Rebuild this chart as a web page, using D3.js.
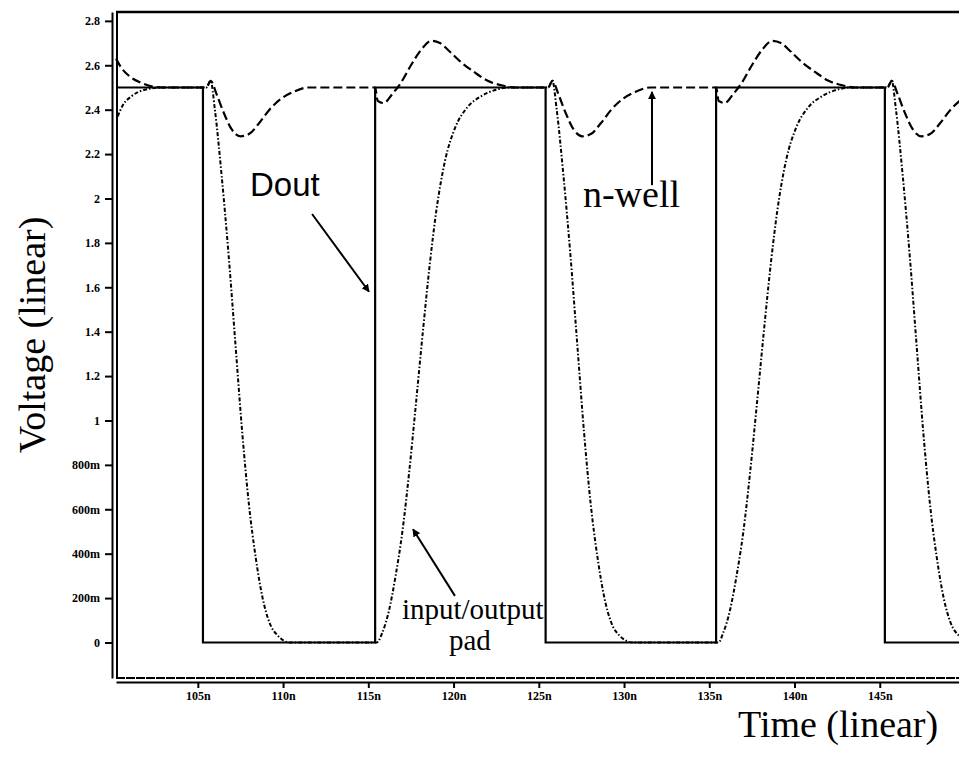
<!DOCTYPE html>
<html>
<head>
<meta charset="utf-8">
<script src="https://cdn.jsdelivr.net/npm/d3@7"></script>
<style>
  body { margin: 0; background: #fff; }
  svg { display: block; }
  .tick text { font-family: "Liberation Serif", serif; font-weight: bold; font-size: 12px; fill: #000; }
  .tick line { stroke: #000; stroke-width: 2; }
  .axis path { stroke: #000; stroke-width: 2; }
</style>
</head>
<body>
<script>
// time in ns, voltage in V
var doutPoints = [[100.2, 2.5], [105.3, 2.5], [105.3, 0], [115.4, 0], [115.4, 2.5], [125.4, 2.5], [125.4, 0],
  [135.4, 0], [135.4, 2.5], [145.3, 2.5], [145.3, 0], [150, 0]];

var padPoints = [[100.3, 2.37], [100.6, 2.42], [101.1, 2.46], [101.9, 2.49], [102.9, 2.5], [105.5, 2.5], [105.75, 2.53],
  [106.0, 2.4], [106.4, 2.1], [106.8, 1.75], [107.2, 1.35], [107.6, 0.95], [108.0, 0.62], [108.4, 0.38], [108.8, 0.2],
  [109.2, 0.09], [109.7, 0.03], [110.4, 0],
  [115.5, 0], [115.8, 0.04], [116.2, 0.14], [116.6, 0.3], [117.0, 0.5], [117.4, 0.77], [117.8, 1.08], [118.2, 1.4],
  [118.6, 1.7], [119.0, 1.95], [119.5, 2.17], [120.1, 2.32], [120.8, 2.41], [121.6, 2.46], [122.5, 2.49], [123.4, 2.5],
  [125.55, 2.5], [125.8, 2.53], [126.05, 2.4], [126.45, 2.1], [126.85, 1.75], [127.25, 1.35], [127.65, 0.95],
  [128.05, 0.62], [128.45, 0.38], [128.85, 0.2], [129.25, 0.09], [129.75, 0.03], [130.5, 0],
  [135.55, 0], [135.8, 0.04], [136.2, 0.14], [136.6, 0.3], [137.0, 0.5], [137.4, 0.77], [137.8, 1.08], [138.2, 1.4],
  [138.6, 1.7], [139.0, 1.95], [139.5, 2.17], [140.1, 2.32], [140.8, 2.41], [141.6, 2.46], [142.5, 2.49], [143.4, 2.5],
  [145.45, 2.5], [145.7, 2.53], [145.95, 2.4], [146.35, 2.1], [146.75, 1.75], [147.15, 1.35], [147.55, 0.95],
  [147.95, 0.62], [148.35, 0.38], [148.75, 0.2], [149.15, 0.09], [149.65, 0.03], [150, 0.01]];

var nwellPoints = [[100.2, 2.63], [100.5, 2.59], [101.0, 2.55], [101.7, 2.52], [102.9, 2.5], [105.5, 2.5], [105.75, 2.53],
  [106.1, 2.47], [106.5, 2.39], [107.0, 2.31], [107.5, 2.28], [108.0, 2.29], [108.6, 2.34], [109.2, 2.4], [109.9, 2.45],
  [110.6, 2.48], [111.5, 2.5],
  [115.4, 2.5], [115.55, 2.44], [115.9, 2.43], [116.4, 2.47], [116.9, 2.52], [117.5, 2.6], [118.1, 2.67], [118.7, 2.71],
  [119.2, 2.7], [119.8, 2.66], [120.5, 2.61], [121.2, 2.57], [122.0, 2.53], [122.8, 2.51], [123.6, 2.5],
  [125.55, 2.5], [125.8, 2.53], [126.15, 2.47], [126.55, 2.39], [127.05, 2.31], [127.55, 2.28], [128.05, 2.29],
  [128.65, 2.34], [129.25, 2.4], [129.95, 2.45], [130.65, 2.48], [131.55, 2.5],
  [135.4, 2.5], [135.55, 2.44], [135.9, 2.43], [136.4, 2.47], [136.9, 2.52], [137.5, 2.6], [138.1, 2.67], [138.7, 2.71],
  [139.2, 2.7], [139.8, 2.66], [140.5, 2.61], [141.2, 2.57], [142.0, 2.53], [142.8, 2.51], [143.6, 2.5],
  [145.45, 2.5], [145.7, 2.53], [146.05, 2.47], [146.45, 2.39], [146.95, 2.31], [147.45, 2.28], [147.95, 2.29],
  [148.55, 2.34], [149.15, 2.4], [149.85, 2.45], [150, 2.46]];

var yTicks = [0, 0.2, 0.4, 0.6, 0.8, 1, 1.2, 1.4, 1.6, 1.8, 2, 2.2, 2.4, 2.6, 2.8];
var yTickLabels = ["0", "200m", "400m", "600m", "800m", "1", "1.2", "1.4", "1.6", "1.8", "2", "2.2", "2.4", "2.6", "2.8"];
var xTicks = [105, 110, 115, 120, 125, 130, 135, 140, 145];
var xTickLabels = ["105n", "110n", "115n", "120n", "125n", "130n", "135n", "140n", "145n"];

var W = 959, H = 757;
var frame = {left: 116, top: 12, right: 965, bottom: 678};

var x = d3.scaleLinear().domain([100.2, 150]).range([frame.left, frame.right]);
var y = d3.scaleLinear().domain([-0.16, 2.84]).range([frame.bottom, frame.top]);

var svg = d3.select("body").append("svg").
attr("width", W).
attr("height", H);

svg.append("defs").append("marker").
attr("id", "arrow").
attr("viewBox", "0 0 10 10").
attr("refX", 9).
attr("refY", 5).
attr("markerWidth", 8).
attr("markerHeight", 8).
attr("markerUnits", "userSpaceOnUse").
attr("orient", "auto").
append("path").
attr("d", "M0,0 L10,5 L0,10 z").
attr("fill", "#000");

// frame
svg.append("line").attr("x1", frame.left).attr("x2", W).attr("y1", frame.top).attr("y2", frame.top).
attr("stroke", "#000").attr("stroke-width", 2.5);
svg.append("line").attr("x1", frame.left + 1).attr("x2", frame.left + 1).attr("y1", frame.top).attr("y2", frame.bottom).
attr("stroke", "#000").attr("stroke-width", 2);
svg.append("line").attr("x1", frame.left).attr("x2", W).attr("y1", frame.bottom).attr("y2", frame.bottom).
attr("stroke", "#000").attr("stroke-width", 2).attr("stroke-dasharray", "9,1");

var yAxis = d3.axisLeft(y).tickValues(yTicks).
tickFormat(function (d, i) {return yTickLabels[i];}).
tickSize(7).tickSizeOuter(0).tickPadding(5);

svg.append("g").
attr("class", "axis").
attr("transform", "translate(" + (frame.left - 4) + ",0)").
call(yAxis);

var xAxis = d3.axisBottom(x).tickValues(xTicks).
tickFormat(function (d, i) {return xTickLabels[i];}).
tickSize(6).tickSizeOuter(0).tickPadding(3);

svg.append("g").
attr("class", "axis").
attr("transform", "translate(0," + (frame.bottom + 4) + ")").
call(xAxis);

var line = d3.line().
x(function (d) {return x(d[0]);}).
y(function (d) {return y(d[1]);});

var smooth = d3.line().
curve(d3.curveMonotoneX).
x(function (d) {return x(d[0]);}).
y(function (d) {return y(d[1]);});

svg.append("path").
datum(nwellPoints).
attr("d", smooth).
attr("fill", "none").
attr("stroke", "#000").
attr("stroke-width", 2.2).
attr("stroke-dasharray", "9,4");

svg.append("path").
datum(padPoints).
attr("d", smooth).
attr("fill", "none").
attr("stroke", "#000").
attr("stroke-width", 2).
attr("stroke-dasharray", "4,2,1.5,2");

svg.append("path").
datum(doutPoints).
attr("d", line).
attr("fill", "none").
attr("stroke", "#000").
attr("stroke-width", 2.2);

// annotations
function arrow(t1, v1, t2, v2) {
  svg.append("line").
  attr("x1", x(t1)).attr("y1", y(v1)).
  attr("x2", x(t2)).attr("y2", y(v2)).
  attr("stroke", "#000").
  attr("stroke-width", 2).
  attr("marker-end", "url(#arrow)");
}

svg.append("text").
attr("x", x(108.06)).attr("y", y(2.01)).
style("font-family", "'Liberation Sans', Arial, sans-serif").
style("font-size", "33px").
text("Dout");
arrow(111.7, 1.93, 115.04, 1.58);

svg.append("text").
attr("x", x(127.59)).attr("y", y(1.96)).
style("font-family", "'Liberation Serif', serif").
style("font-size", "38px").
text("n-well");
arrow(131.64, 2.06, 131.64, 2.48);

svg.append("text").
attr("x", x(116.97)).attr("y", y(0.104)).
style("font-family", "'Liberation Serif', serif").
style("font-size", "29px").
text("input/output");
svg.append("text").
attr("x", x(120.96)).attr("y", y(-0.036)).
attr("text-anchor", "middle").
style("font-family", "'Liberation Serif', serif").
style("font-size", "29px").
text("pad");
arrow(120.08, 0.21, 117.62, 0.51);

svg.append("text").
attr("transform", "translate(45,335) rotate(-90)").
attr("text-anchor", "middle").
style("font-family", "'Liberation Serif', serif").
style("font-size", "38px").
text("Voltage (linear)");

svg.append("text").
attr("x", 738).attr("y", 737).
style("font-family", "'Liberation Serif', serif").
style("font-size", "38px").
text("Time (linear)");
</script>
</body>
</html>
